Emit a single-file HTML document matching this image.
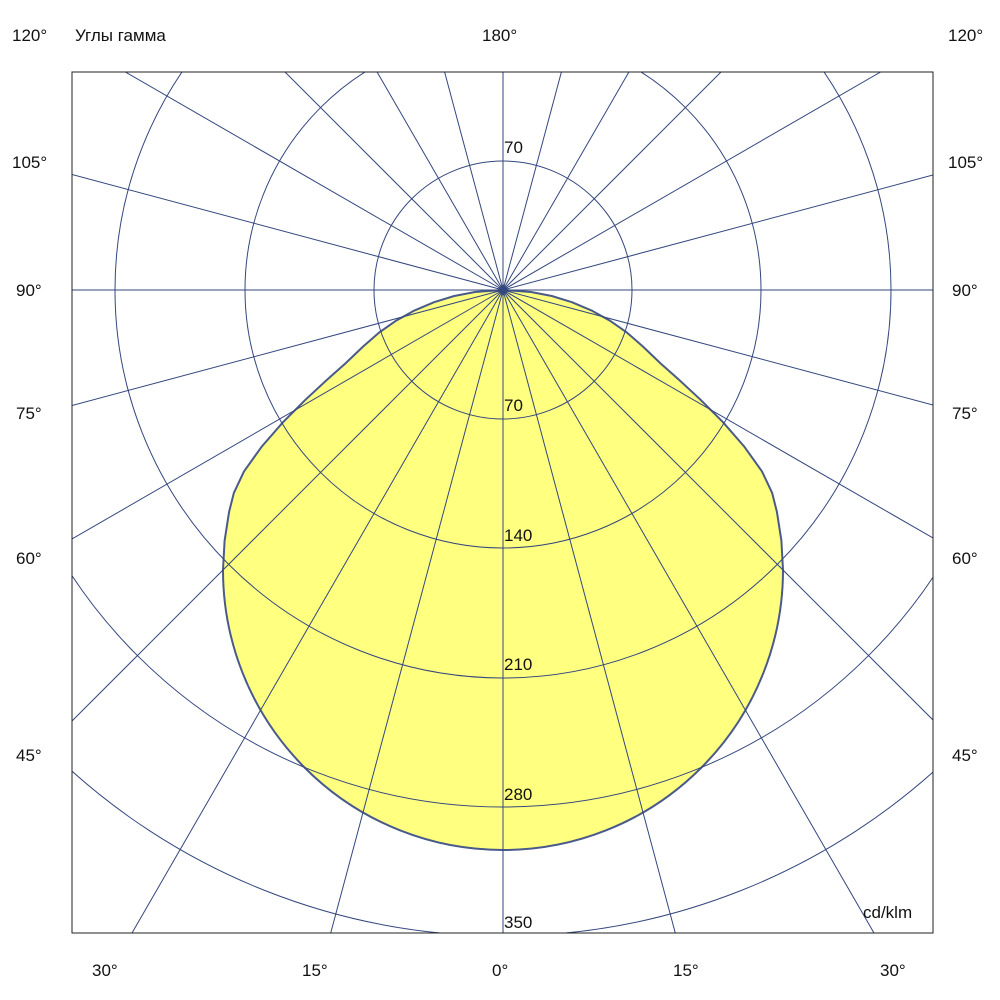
<!DOCTYPE html>
<html><head><meta charset="utf-8"><style>
html,body{margin:0;padding:0;background:#fff;overflow:hidden;width:1000px;height:1000px;}
svg{display:block;position:absolute;left:0;top:0;overflow:hidden;}
svg text{font-family:"Liberation Sans",sans-serif;font-size:17px;fill:#111;}
</style></head><body>
<svg width="1000" height="1000" viewBox="0 0 1000 1000" xmlns="http://www.w3.org/2000/svg">
<defs><clipPath id="c"><rect x="72" y="72" width="861" height="861"/></clipPath></defs>
<rect width="1000" height="1000" fill="#fff"/>
<g clip-path="url(#c)">
<path d="M503,290 L531,292 L551.8,296 L571.9,302.2 L591.4,310.4 L609.8,320.6 L627.1,332.7 L643,346.6 L660.8,363.6 L678.7,379.5 L700.1,399.3 L723,422.2 L744.5,446.9 L762,471.4 L772.1,492.8 L776.9,511.8 L781.4,540.7 L783,570 A280,280 0 0 1 223,570 L224.6,540.7 L229.1,511.8 L233.9,492.8 L244,471.4 L261.5,446.9 L283,422.2 L305.9,399.3 L327.3,379.5 L345.2,363.6 L363,346.6 L378.9,332.7 L396.2,320.6 L414.6,310.4 L434.1,302.2 L454.2,296 L475,292 Z" fill="#ffff80" stroke="#4a5a8a" stroke-width="2" stroke-linejoin="round"/>
<g stroke="#34477e" stroke-width="1" fill="none">
<circle cx="503" cy="290" r="129"/>
<circle cx="503" cy="290" r="258"/>
<circle cx="503" cy="290" r="388"/>
<circle cx="503" cy="290" r="517"/>
<circle cx="503" cy="290" r="646"/>
<line x1="72" y1="290" x2="933" y2="290"/>
<line x1="503" y1="72" x2="503" y2="933"/>
<line x1="503" y1="290" x2="675.3" y2="933"/><line x1="503" y1="290" x2="330.7" y2="933"/>
<line x1="503" y1="290" x2="874" y2="933"/><line x1="503" y1="290" x2="132" y2="933"/>
<line x1="503" y1="290" x2="933" y2="720"/><line x1="503" y1="290" x2="72" y2="721"/>
<line x1="503" y1="290" x2="933" y2="538"/><line x1="503" y1="290" x2="72" y2="539"/>
<line x1="503" y1="290" x2="933" y2="405"/><line x1="503" y1="290" x2="72" y2="405.5"/>
<line x1="503" y1="290" x2="933" y2="175"/><line x1="503" y1="290" x2="72" y2="174.5"/>
<line x1="503" y1="290" x2="880.6" y2="72"/><line x1="503" y1="290" x2="125.4" y2="72"/>
<line x1="503" y1="290" x2="721" y2="72"/><line x1="503" y1="290" x2="285" y2="72"/>
<line x1="503" y1="290" x2="628.9" y2="72"/><line x1="503" y1="290" x2="377.1" y2="72"/>
<line x1="503" y1="290" x2="561.4" y2="72"/><line x1="503" y1="290" x2="444.6" y2="72"/>
</g>
</g>
<rect x="72" y="72" width="861" height="861" fill="none" stroke="#222" stroke-width="1"/>
<path d="M497 290 L503 284 L509 290 L503 296Z" fill="#34477e"/>
<text x="504" y="153">70</text>
<text x="504" y="411">70</text>
<text x="504" y="541">140</text>
<text x="504" y="670">210</text>
<text x="504" y="800">280</text>
<text x="504" y="928">350</text>
<text x="863" y="918">cd/klm</text>
<text x="12" y="41">120°</text>
<text x="75" y="41">Углы гамма</text>
<text x="482" y="41">180°</text>
<text x="948" y="41">120°</text>
<text x="12" y="168">105°</text><text x="948" y="168">105°</text>
<text x="16" y="296">90°</text><text x="952" y="296">90°</text>
<text x="16" y="419">75°</text><text x="952" y="419">75°</text>
<text x="16" y="564">60°</text><text x="952" y="564">60°</text>
<text x="16" y="761">45°</text><text x="952" y="761">45°</text>
<text x="92" y="976">30°</text>
<text x="302" y="976">15°</text>
<text x="492" y="976">0°</text>
<text x="673" y="976">15°</text>
<text x="880" y="976">30°</text>
</svg>
</body></html>
